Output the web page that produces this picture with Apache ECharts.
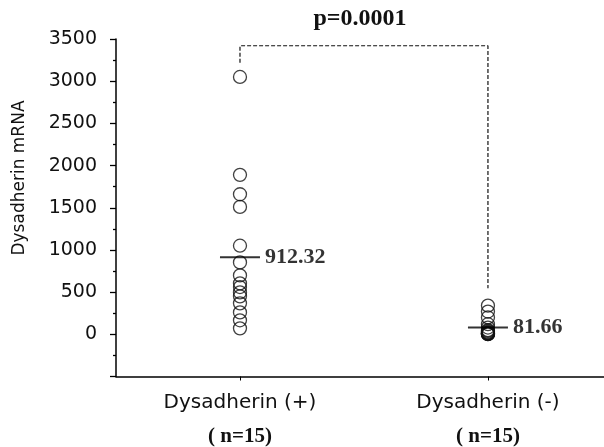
<!DOCTYPE html>
<html>
<head>
<meta charset="utf-8">
<script src="https://cdn.jsdelivr.net/npm/echarts@6/dist/echarts.min.js"></script>
<style>html,body{margin:0;padding:0;background:#fff;}#c{width:604px;height:447px;}</style>
</head>
<body>
<div id="c"></div>
<script>
// ---- data ----
var categories = ['Dysadherin (+)', 'Dysadherin (-)'];
var groupSizes = ['( n=15)', '( n=15)'];
var positiveValues = [3050, 1890, 1660, 1510, 1050, 852, 698, 604, 560, 497, 450, 367, 260, 166, 71];
var negativeValues = [340, 270, 200, 120, 80, 50, 40, 30, 20, 15, 10, 8, 5, 3, 2];
var meanValues = [912.32, 81.66];
var meanLabels = ['912.32', '81.66'];
var yTickLabels = [0, 500, 1000, 1500, 2000, 2500, 3000, 3500];
var bracketX = [0, 0, 1, 1];
var bracketY = [3220, 3420, 3420, 545];
var pValueText = 'p=0.0001';
var yAxisTitle = 'Dysadherin mRNA';

var chart = echarts.init(document.getElementById('c'), null, {renderer: 'canvas'});

var catIdx = categories.map(function (c, i) { return i; });
var scatterData = positiveValues.map(function (v) { return [0, v]; })
  .concat(negativeValues.map(function (v) { return [1, v]; }));
var meanData = meanValues.map(function (v, i) { return [i, v]; });
var bracketData = bracketX.map(function (x, i) { return [x, bracketY[i]]; });

var sans = 'DejaVu Sans';
var serif = 'Liberation Serif';

var option = {
  animation: false,
  backgroundColor: '#fff',
  grid: {left: 116, right: 0, top: 39, bottom: 70},
  xAxis: {
    type: 'value',
    min: -0.5,
    max: 1.468,
    axisLine: {onZero: false, lineStyle: {color: '#000', width: 1.5}},
    axisTick: {show: true, customValues: catIdx, length: 4, lineStyle: {color: '#000', width: 1}},
    axisLabel: {
      margin: 10,
      customValues: catIdx,
      formatter: function (v) {
        var i = Math.round(v);
        return '{a|' + categories[i] + '}\n{b|' + groupSizes[i] + '}';
      },
      rich: {
        a: {fontFamily: sans, fontSize: 20, color: '#111', lineHeight: 32},
        b: {fontFamily: serif, fontWeight: 'bold', fontSize: 21, color: '#111', lineHeight: 36}
      }
    },
    splitLine: {show: false}
  },
  yAxis: {
    type: 'value',
    min: -500,
    max: 3500,
    interval: 500,
    axisLine: {show: true, onZero: false, lineStyle: {color: '#000', width: 1.5}},
    axisTick: {show: true, length: 6, lineStyle: {color: '#000', width: 1.3}},
    minorTick: {show: true, splitNumber: 2, length: 3, lineStyle: {color: '#000', width: 1.3}},
    axisLabel: {
      margin: 19,
      fontFamily: sans,
      fontSize: 19,
      color: '#111',
      formatter: function (v) { return yTickLabels.indexOf(v) >= 0 ? String(v) : ''; }
    },
    splitLine: {show: false}
  },
  graphic: [
    {
      type: 'text', x: 20, y: 178, rotation: Math.PI / 2,
      style: {text: yAxisTitle, fontFamily: sans, fontSize: 17, fill: '#111', textAlign: 'center', textVerticalAlign: 'middle'}
    },
    {
      type: 'text', x: 360, y: 19,
      style: {text: pValueText, fontFamily: serif, fontWeight: 'bold', fontSize: 24, fill: '#111', textAlign: 'center', textVerticalAlign: 'middle'}
    }
  ],
  series: [
    {
      type: 'line',
      data: bracketData,
      symbol: 'none',
      lineStyle: {color: '#111', width: 1.2, type: [4, 2]},
      silent: true
    },
    {
      type: 'scatter',
      data: scatterData,
      symbol: 'circle',
      symbolSize: 13,
      itemStyle: {color: 'rgba(255,255,255,0)', borderColor: '#111', borderWidth: 1.3},
      silent: true
    },
    {
      type: 'scatter',
      data: meanData,
      symbol: 'rect',
      symbolSize: [40, 2],
      itemStyle: {color: '#000'},
      label: {
        show: true,
        position: 'right',
        distance: 5,
        formatter: function (p) { return meanLabels[p.dataIndex]; },
        fontFamily: serif,
        fontWeight: 'bold',
        fontSize: 22,
        color: '#000'
      },
      z: 5,
      silent: true
    }
  ]
};
chart.setOption(option);
</script>
</body>
</html>
